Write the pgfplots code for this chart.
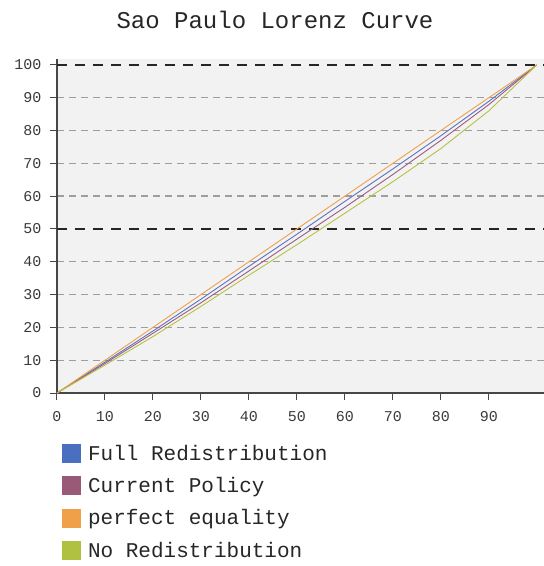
\documentclass[border=0pt]{standalone}
\usepackage{pgfplots}
\pgfplotsset{compat=1.18}
\usepackage{fontspec}
\setmainfont{Liberation Mono}
\definecolor{cblue}{HTML}{5874C4}
\definecolor{cpurple}{HTML}{9C5C80}
\definecolor{corange}{HTML}{F0A048}
\definecolor{cgreen}{HTML}{B4C244}
\definecolor{lblue}{HTML}{4A6FC0}
\definecolor{lpurple}{HTML}{985A78}
\definecolor{lorange}{HTML}{F0A048}
\definecolor{lgreen}{HTML}{B0C040}
\definecolor{bg}{HTML}{F2F2F2}
\definecolor{tickc}{HTML}{3A3A3A}
\begin{document}
\begin{tikzpicture}[x=1pt,y=1pt]
\path[use as bounding box] (-57,-173) rectangle (487,393);
\begin{axis}[
  at={(0,0)}, anchor=south west,
  scale only axis, width=487pt, height=334pt,
  xmin=0, xmax=101.5, ymin=0, ymax=101.8,
  axis x line=bottom, axis y line=left,
  axis line style={-, draw=black!72, line width=1.3pt},
  axis background/.style={fill=bg},
  tick align=outside, major tick length=7pt,
  tick style={draw=black!72, line width=1pt},
  xtick={0,10,...,90}, ytick={0,10,20,30,40,60,70,80,90},
  extra y ticks={50,100},
  extra y tick style={grid style={draw=black!85, line width=1.3pt, dash pattern=on 10pt off 8pt}},
  ymajorgrids,
  grid style={draw=black!38, line width=1.3pt, dash pattern=on 7pt off 5pt},
  ticklabel style={font=\fontsize{15}{17}\selectfont, text=tickc},
  /pgf/number format/assume math mode=true,
  xticklabel style={yshift=-8pt},
  yticklabel style={xshift=-5pt},
  clip=false,
  legend style={at={(0,0)}, anchor=north west, xshift=5pt, yshift=-50pt,
    draw=none, fill=none, inner sep=0pt, row sep=11.5pt,
    font=\fontsize{21}{24}\selectfont, text=black!85,
    /tikz/every odd column/.append style={column sep=5pt}},
  legend cell align=left,
]
\addplot[cblue, line width=0.9pt, legend image code/.code={\fill[lblue] (0pt,-9pt) rectangle (18pt,9pt);}]
  coordinates {(0,0) (10,9.4) (20,18.9) (30,28.6) (40,38.6) (50,48.4) (60,58.4) (70,68.3) (80,78.4) (90,88.9) (100,100)};
\addlegendentry{Full Redistribution}
\addplot[cpurple, line width=0.9pt, legend image code/.code={\fill[lpurple] (0pt,-9pt) rectangle (18pt,9pt);}]
  coordinates {(0,0) (10,9.0) (20,18.2) (30,27.5) (40,37.2) (50,46.9) (60,56.6) (70,66.6) (80,77.0) (90,87.9) (100,100)};
\addlegendentry{Current Policy}
\addplot[corange, line width=0.9pt, legend image code/.code={\fill[lorange] (0pt,-9pt) rectangle (18pt,9pt);}]
  coordinates {(0,0) (10,10) (20,20) (30,30) (40,40) (50,50) (60,60) (70,70) (80,80) (90,90) (100,100)};
\addlegendentry{perfect equality}
\addplot[cgreen, line width=0.9pt, legend image code/.code={\fill[lgreen] (0pt,-9pt) rectangle (18pt,9pt);}]
  coordinates {(0,0) (10,8.5) (20,17.2) (30,26.4) (40,35.9) (50,45.2) (60,54.8) (70,64.4) (80,74.5) (90,86.0) (100,100)};
\addlegendentry{No Redistribution}
\end{axis}
\node[font=\fontsize{24}{28}\selectfont, text=black!85, anchor=base] at (218,365) {Sao Paulo Lorenz Curve};
\end{tikzpicture}
\end{document}
